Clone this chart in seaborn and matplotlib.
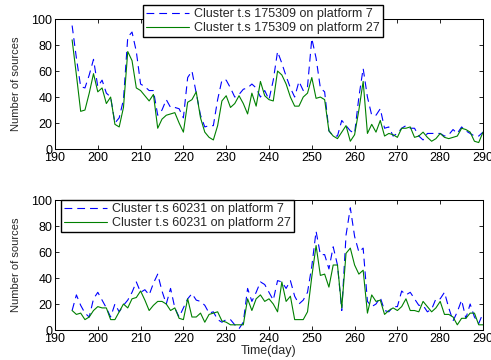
import matplotlib
matplotlib.use("Agg")
import matplotlib.pyplot as plt
import numpy as np
import pandas as pd
import seaborn as sns

# Days covered by both panels
days = list(range(194, 291))

# Upper panel: cluster t.s 175309
c175309_p7 = [95, 70, 48, 47, 57, 69, 48, 53, 43, 40,
              20, 24, 38, 86, 90, 75, 50, 48, 45, 45,
              26, 30, 38, 32, 32, 31, 24, 55, 60, 43,
              26, 17, 18, 18, 38, 53, 53, 47, 40, 42,
              46, 47, 50, 47, 40, 45, 38, 53, 75, 66,
              56, 47, 40, 52, 45, 48, 85, 70, 47, 44,
              14, 10, 10, 22, 18, 14, 12, 40, 62, 40,
              26, 26, 31, 16, 17, 10, 12, 16, 18, 16,
              16, 10, 7, 12, 12, 12, 12, 10, 11, 15,
              12, 17, 14, 12, 10, 10, 13]
c175309_p27 = [84, 57, 29, 30, 43, 58, 44, 47, 35, 40,
               19, 17, 32, 75, 68, 47, 45, 41, 37, 42,
               16, 23, 26, 27, 28, 20, 13, 36, 38, 44,
               24, 13, 9, 7, 18, 37, 41, 32, 35, 41,
               35, 27, 43, 33, 52, 41, 38, 37, 60, 57,
               50, 40, 33, 33, 40, 43, 55, 39, 40, 38,
               14, 10, 8, 13, 18, 6, 11, 30, 52, 12,
               19, 13, 22, 10, 12, 11, 9, 16, 16, 17,
               9, 10, 13, 9, 6, 8, 12, 9, 8, 9,
               10, 16, 15, 13, 6, 5, 13]

# Lower panel: cluster t.s 60231
c60231_p7 = [15, 27, 19, 13, 10, 24, 29, 23, 17, 10,
             20, 14, 19, 23, 29, 37, 29, 31, 27, 36,
             43, 30, 20, 32, 17, 10, 17, 24, 28, 23,
             22, 19, 13, 14, 8, 6, 8, 8, 4, 1,
             6, 32, 22, 29, 37, 35, 29, 23, 38, 37,
             32, 38, 26, 20, 23, 29, 49, 76, 58, 58,
             47, 64, 50, 15, 73, 94, 72, 60, 63, 22,
             18, 20, 25, 15, 14, 18, 18, 30, 27, 29,
             24, 19, 19, 14, 16, 24, 24, 29, 17, 7,
             14, 23, 9, 20, 10, 5, 13]
c60231_p27 = [15, 12, 13, 8, 10, 15, 18, 17, 17, 8,
              8, 14, 20, 17, 24, 25, 30, 23, 15, 19,
              22, 22, 20, 15, 17, 9, 8, 24, 10, 10,
              13, 6, 12, 13, 14, 7, 6, 4, 4, 4,
              4, 24, 15, 24, 27, 22, 24, 20, 14, 37,
              22, 26, 8, 8, 8, 14, 41, 65, 42, 43,
              33, 50, 50, 17, 59, 63, 50, 43, 46, 13,
              27, 22, 23, 12, 15, 17, 15, 18, 24, 15,
              15, 14, 22, 18, 14, 17, 22, 12, 12, 10,
              4, 9, 9, 13, 13, 4, 4]

labels_top = ["Cluster t.s 175309 on platform 7", "Cluster t.s 175309 on platform 27"]
labels_bottom = ["Cluster t.s 60231 on platform 7", "Cluster t.s 60231 on platform 27"]

xticks = list(range(190, 291, 10))
yticks = list(range(0, 101, 20))

sns.set_theme(style="ticks")
plt.rcParams["font.family"] = ["Liberation Sans", "DejaVu Sans"]
plt.rcParams["axes.linewidth"] = 0.75

BLUE = "#0000ff"
GREEN = "#008000"

fig = plt.figure(figsize=(4.91, 3.6), dpi=100)
ax_top = fig.add_axes([0.112, 0.586, 0.8717, 0.3611])
ax_bot = fig.add_axes([0.112, 0.0833, 0.8717, 0.3611])


def draw_panel(ax, p7, p27, labels, legend_anchor):
    df = pd.DataFrame({"day": days, "p7": p7, "p27": p27})
    sns.lineplot(data=df, x="day", y="p7", ax=ax, color=BLUE, linewidth=0.8,
                 linestyle=(0, (7, 4.5)), label=labels[0])
    sns.lineplot(data=df, x="day", y="p27", ax=ax, color=GREEN, linewidth=0.8,
                 label=labels[1])
    ax.set_xlim(190, 290)
    ax.set_ylim(0, 100)
    ax.set_xticks(xticks)
    ax.set_yticks(yticks)
    ax.tick_params(direction="in", length=3, width=0.6, top=True, right=True,
                   labelsize=9, pad=2, colors="black")
    for s in ax.spines.values():
        s.set_visible(True)
        s.set_color("black")
        s.set_linewidth(0.75)
    ax.set_ylabel("Number of sources", fontsize=8, labelpad=7)
    ax.set_xlabel("")
    leg = ax.legend(loc="upper left", bbox_to_anchor=legend_anchor,
                    borderaxespad=0, fontsize=9, frameon=True, fancybox=False,
                    framealpha=1, edgecolor="black", borderpad=0.25,
                    labelspacing=0.15, handlelength=3.4, handletextpad=0.4)
    leg.get_frame().set_linewidth(1.0)


draw_panel(ax_top, c175309_p7, c175309_p27, labels_top, (0.206, 1.108))
draw_panel(ax_bot, c60231_p7, c60231_p27, labels_bottom, (0.014, 1.0))
ax_bot.set_xlabel("Time(day)", fontsize=9, labelpad=0)

fig.savefig("out.png", dpi=100)
